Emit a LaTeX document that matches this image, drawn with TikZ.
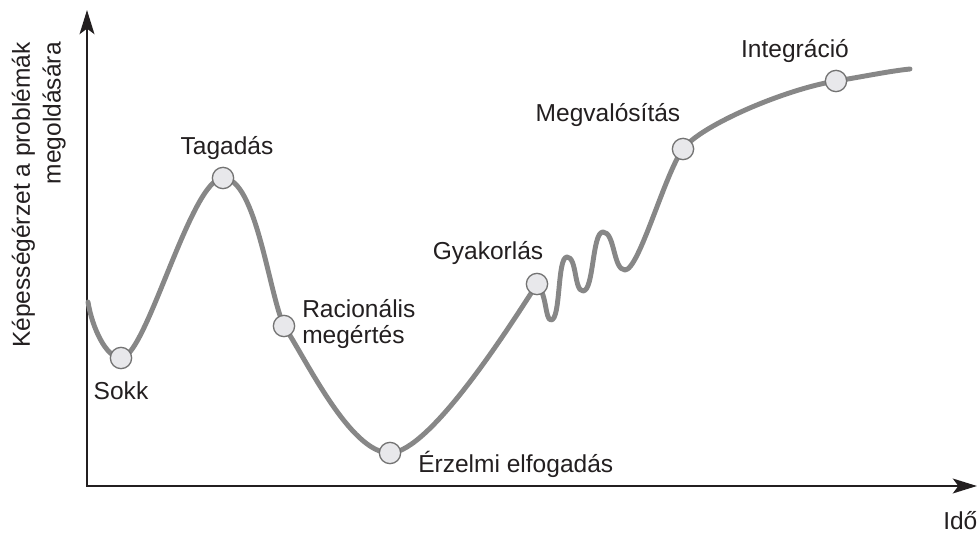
\documentclass[tikz,border=0pt]{standalone}
\usepackage{fontspec}
\setmainfont{Liberation Sans}
\usetikzlibrary{arrows.meta}
\definecolor{curvegray}{RGB}{135,135,135}
\definecolor{dotfill}{RGB}{232,232,235}
\definecolor{dotline}{RGB}{115,115,115}
\definecolor{txt}{RGB}{35,31,32}
\begin{document}
\begin{tikzpicture}[x=0.75pt,y=-0.75pt,
  axis/.style={line width=2.2pt, draw=txt, line join=miter,
    {Stealth[length=18pt,width=11pt,inset=4pt]}-{Stealth[length=18pt,width=11pt,inset=4pt]}},
  curve/.style={line width=3.7pt, draw=curvegray, line cap=round, line join=round},
  dot/.style={circle, minimum size=16pt, inner sep=0pt, fill=dotfill, draw=dotline, line width=1pt},
  lbl/.style={font=\fontsize{18.4}{19.5}\selectfont, text=txt, inner sep=0pt}]
\useasboundingbox (0,0) rectangle (979,534);
% axes
\coordinate (O) at (87,486);
\coordinate (ytip) at (87,10);
\coordinate (xtip) at (977,486);
\draw[axis] (ytip) -- (O) -- (xtip);
% curve points
\coordinate (A) at (88,302);
\coordinate (S) at (121,358);
\coordinate (T) at (223,178);
\coordinate (R) at (284,326);
\coordinate (E) at (390,453);
\coordinate (G) at (537,284);
\coordinate (B1) at (551,320);
\coordinate (T1) at (567,257);
\coordinate (B2) at (583,291);
\coordinate (T2) at (603,232);
\coordinate (B3) at (625,270);
\coordinate (M) at (683,149);
\coordinate (I) at (836,81);
\coordinate (Z) at (910,69);
\draw[curve] (A) .. controls (92,327) and (106,358) .. (S)
 .. controls (146,358) and (191,178) .. (T)
 .. controls (256,178) and (269,294) .. (R)
 .. controls (306,359) and (350,453) .. (E)
 .. controls (430,452) and (510,326) .. (G)
 .. controls (547,294) and (545,320) .. (B1)
 .. controls (561,320) and (557,257) .. (T1)
 .. controls (577,257) and (574,291) .. (B2)
 .. controls (594,291) and (592,232) .. (T2)
 .. controls (615,232) and (613,270) .. (B3)
 .. controls (639,270) and (665,173) .. (M)
 .. controls (701,125) and (786,89) .. (I)
 .. controls (861,77) and (890,71) .. (Z);
% dots
\node[dot] (sokk) at (S) {};
\node[dot] (tagadas) at (T) {};
\node[dot] (racio) at (R) {};
\node[dot] (erzelmi) at (E) {};
\node[dot] (gyak) at (G) {};
\node[dot] (megval) at (M) {};
\node[dot] (integr) at (I) {};
% labels
\node[lbl, anchor=base] (lsokk) at (121,400) {Sokk};
\node[lbl, anchor=base] (ltagadas) at (227,155) {Tagadás};
\node[lbl, anchor=west, align=left] (lracio) at (302,324) {Racionális\\megértés};
\node[lbl, anchor=base west] (lerzelmi) at (418,473) {Érzelmi elfogadás};
\node[lbl, anchor=base] (lgyak) at (488,260) {Gyakorlás};
\node[lbl, anchor=base] (lmegval) at (608,122) {Megvalósítás};
\node[lbl, anchor=base] (lintegr) at (795,58) {Integráció};
\node[lbl, anchor=base west] (lido) at (943,530) {Idő};
\node[lbl, rotate=90, anchor=south east, align=right,
  font=\fontsize{18.4}{23}\selectfont] (lylab) at (66,42) {Képességérzet a problémák\\megoldására};
\end{tikzpicture}
\end{document}
